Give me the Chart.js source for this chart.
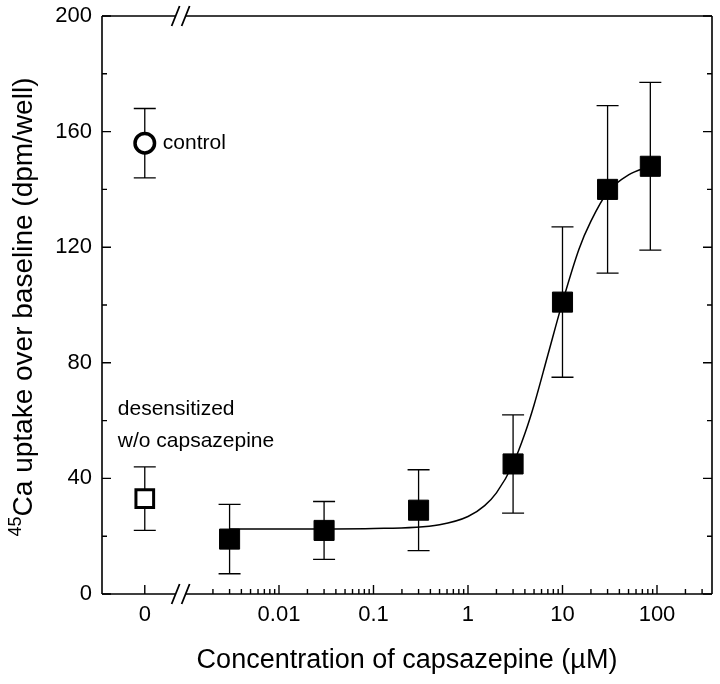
<!DOCTYPE html>
<html>
<head>
<meta charset="utf-8">
<script src="https://cdn.jsdelivr.net/npm/chart.js"></script>
<style>
  html, body { margin: 0; padding: 0; background: #fff; }
</style>
</head>
<body>
<canvas id="doseChart" width="720" height="684"></canvas>
<script>
// capsazepine (uM) vs 45Ca uptake
const concentrations = [0.003, 0.03, 0.3, 3, 10, 30, 85];
const uptake = [19, 22, 29, 45, 101, 140, 148];
const uptakeErr = [12, 10, 14, 17, 26, 29, 29];

const controlUptake = [156];
const controlErr = [12];
const desensitizedUptake = [33];
const desensitizedErr = [11];

// fitted line, sampled by eye along the drawn curve
const fitConc = [0.003, 0.01, 0.1, 0.5, 1, 1.5, 2, 3, 4, 5, 7, 10, 15, 20, 30, 50, 85];
const fitUptake = [22.5, 22.5, 22.7, 24, 26.8, 30.6, 35, 45, 55.5, 65.4, 82.7, 101, 119.5, 129, 139, 145, 148];

// the "0" group sits left of the axis break
const ZERO_AT = 0.00038;
const BREAK_AT = 0.00091;
const X_MIN = 0.000134;
const X_MAX = 382;

const xTickValues = [ZERO_AT, 0.01, 0.1, 1, 10, 100];
const xTickLabels = ["0", "0.01", "0.1", "1", "10", "100"];
const yTickLabels = [0, 40, 80, 120, 160, 200];

const FONT = "'Liberation Sans', Arial, sans-serif";

function errBar(ctx, px, top, bot) {
  const cap = 11;
  ctx.beginPath();
  ctx.moveTo(px, top); ctx.lineTo(px, bot);
  ctx.moveTo(px - cap, top); ctx.lineTo(px + cap, top);
  ctx.moveTo(px - cap, bot); ctx.lineTo(px + cap, bot);
  ctx.stroke();
}

function noPadding(scale) {
  scale.paddingTop = 0;
  scale.paddingBottom = 0;
  scale.paddingLeft = 0;
  scale.paddingRight = 0;
}

const framePlugin = {
  id: "frame",
  beforeDatasetsDraw(chart) {
    const ctx = chart.ctx;
    const xs = chart.scales.x, ys = chart.scales.y;
    ctx.save();
    ctx.strokeStyle = "#000";
    ctx.lineWidth = 1.3;
    concentrations.forEach((c, i) => {
      errBar(ctx, xs.getPixelForValue(c),
        ys.getPixelForValue(uptake[i] + uptakeErr[i]),
        ys.getPixelForValue(uptake[i] - uptakeErr[i]));
    });
    errBar(ctx, xs.getPixelForValue(ZERO_AT),
      ys.getPixelForValue(controlUptake[0] + controlErr[0]),
      ys.getPixelForValue(controlUptake[0] - controlErr[0]));
    errBar(ctx, xs.getPixelForValue(ZERO_AT),
      ys.getPixelForValue(desensitizedUptake[0] + desensitizedErr[0]),
      ys.getPixelForValue(desensitizedUptake[0] - desensitizedErr[0]));
    ctx.restore();
  },
  afterDatasetsDraw(chart) {
    const ctx = chart.ctx;
    const a = chart.chartArea;
    const xs = chart.scales.x, ys = chart.scales.y;
    const bx = xs.getPixelForValue(BREAK_AT);

    ctx.save();
    ctx.strokeStyle = "#000";
    ctx.lineWidth = 1.6;
    ctx.lineCap = "butt";

    // box with a gap for the break
    ctx.beginPath();
    ctx.moveTo(a.left, a.top); ctx.lineTo(a.left, a.bottom);
    ctx.moveTo(a.right, a.top); ctx.lineTo(a.right, a.bottom);
    [a.top, a.bottom].forEach(y => {
      ctx.moveTo(a.left, y); ctx.lineTo(bx - 5, y);
      ctx.moveTo(bx + 5, y); ctx.lineTo(a.right, y);
    });
    ctx.stroke();

    // break marks //
    ctx.lineWidth = 1.8;
    ctx.beginPath();
    [a.top, a.bottom].forEach(y => {
      [bx - 5, bx + 5].forEach(cx => {
        ctx.moveTo(cx - 4, y + 10);
        ctx.lineTo(cx + 4, y - 10);
      });
    });
    ctx.stroke();

    // inward ticks
    ctx.lineWidth = 1.4;
    ctx.beginPath();
    xTickValues.forEach(v => {
      const px = xs.getPixelForValue(v);
      ctx.moveTo(px, a.bottom); ctx.lineTo(px, a.bottom - 9);
    });
    for (let e = -3; e <= 2; e++) {
      for (let k = 2; k <= 9; k++) {
        const v = k * Math.pow(10, e);
        if (v <= BREAK_AT || v >= X_MAX) continue;
        const px = xs.getPixelForValue(v);
        ctx.moveTo(px, a.bottom); ctx.lineTo(px, a.bottom - 5);
      }
    }
    for (let v = 0; v <= 200; v += 20) {
      const py = ys.getPixelForValue(v);
      const len = v % 40 === 0 ? 9 : 5;
      ctx.moveTo(a.left, py); ctx.lineTo(a.left + len, py);
      ctx.moveTo(a.right, py); ctx.lineTo(a.right - len, py);
    }
    ctx.stroke();

    // labels next to the zero group
    const zx = xs.getPixelForValue(ZERO_AT);
    ctx.fillStyle = "#000";
    ctx.font = "21px " + FONT;
    ctx.textAlign = "left";
    ctx.textBaseline = "middle";
    ctx.fillText("control", zx + 18, ys.getPixelForValue(controlUptake[0]));
    ctx.fillText("desensitized", zx - 27, ys.getPixelForValue(64));
    ctx.fillText("w/o capsazepine", zx - 27, ys.getPixelForValue(53));

    // y title with superscript 45
    const main = "Ca uptake over baseline (dpm/well)";
    ctx.font = "28px " + FONT;
    const mainW = ctx.measureText(main).width;
    ctx.font = "18px " + FONT;
    const supW = ctx.measureText("45").width;
    const start = -(mainW + supW) / 2;
    ctx.translate(0, (a.top + a.bottom) / 2 + 2);
    ctx.rotate(-Math.PI / 2);
    ctx.textBaseline = "alphabetic";
    ctx.fillText("45", start, 21);
    ctx.font = "28px " + FONT;
    ctx.fillText(main, start + supW, 32);
    ctx.restore();
  }
};

const ctx = document.getElementById("doseChart").getContext("2d");
new Chart(ctx, {
  type: "scatter",
  data: {
    datasets: [
      {
        label: "capsazepine",
        data: concentrations.map((c, i) => ({ x: c, y: uptake[i] })),
        pointStyle: "rect",
        pointRadius: 14.2,
        pointBackgroundColor: "#000",
        pointBorderColor: "#000",
        pointBorderWidth: 1,
        order: 1,
      },
      {
        label: "control",
        data: controlUptake.map(v => ({ x: ZERO_AT, y: v })),
        pointStyle: "circle",
        pointRadius: 9.75,
        pointBackgroundColor: "#fff",
        pointBorderColor: "#000",
        pointBorderWidth: 3.5,
        order: 1,
      },
      {
        label: "desensitized w/o capsazepine",
        data: desensitizedUptake.map(v => ({ x: ZERO_AT, y: v })),
        pointStyle: "rect",
        pointRadius: 12.5,
        pointBackgroundColor: "#fff",
        pointBorderColor: "#000",
        pointBorderWidth: 3,
        order: 1,
      },
      {
        label: "fit",
        data: fitConc.map((c, i) => ({ x: c, y: fitUptake[i] })),
        showLine: true,
        pointRadius: 0,
        borderColor: "#000",
        borderWidth: 1.5,
        cubicInterpolationMode: "monotone",
        order: 2,
      },
    ],
  },
  options: {
    responsive: false,
    animation: false,
    events: [],
    layout: { autoPadding: false, padding: { top: 16, right: 8, left: 0, bottom: 0 } },
    plugins: {
      legend: { display: false },
      tooltip: { enabled: false },
    },
    scales: {
      x: {
        type: "logarithmic",
        min: X_MIN,
        max: X_MAX,
        bounds: "data",
        grid: { display: false, drawTicks: false },
        border: { display: false },
        afterBuildTicks(scale) {
          // blank tick at the right end so the last label adds no padding
          scale.ticks = xTickValues.map(v => ({ value: v })).concat([{ value: X_MAX }]);
        },
        afterFit(scale) {
          scale.height = 90;
          noPadding(scale);
        },
        ticks: {
          autoSkip: false,
          maxRotation: 0,
          padding: 8,
          color: "#000",
          font: { family: FONT, size: 22 },
          callback(value, index) { return xTickLabels[index] || ""; },
        },
        title: {
          display: true,
          text: "Concentration of capsazepine (\u00B5M)",
          color: "#000",
          font: { family: FONT, size: 27 },
          padding: { top: 0, bottom: 7 },
        },
      },
      y: {
        min: 0,
        max: 200,
        grid: { display: false, drawTicks: false },
        border: { display: false },
        afterBuildTicks(scale) {
          scale.ticks = yTickLabels.map(v => ({ value: v }));
        },
        afterFit(scale) {
          scale.width = 102;
          noPadding(scale);
        },
        ticks: {
          padding: 10,
          color: "#000",
          font: { family: FONT, size: 22 },
        },
      },
    },
  },
  plugins: [framePlugin],
});
</script>
</body>
</html>
